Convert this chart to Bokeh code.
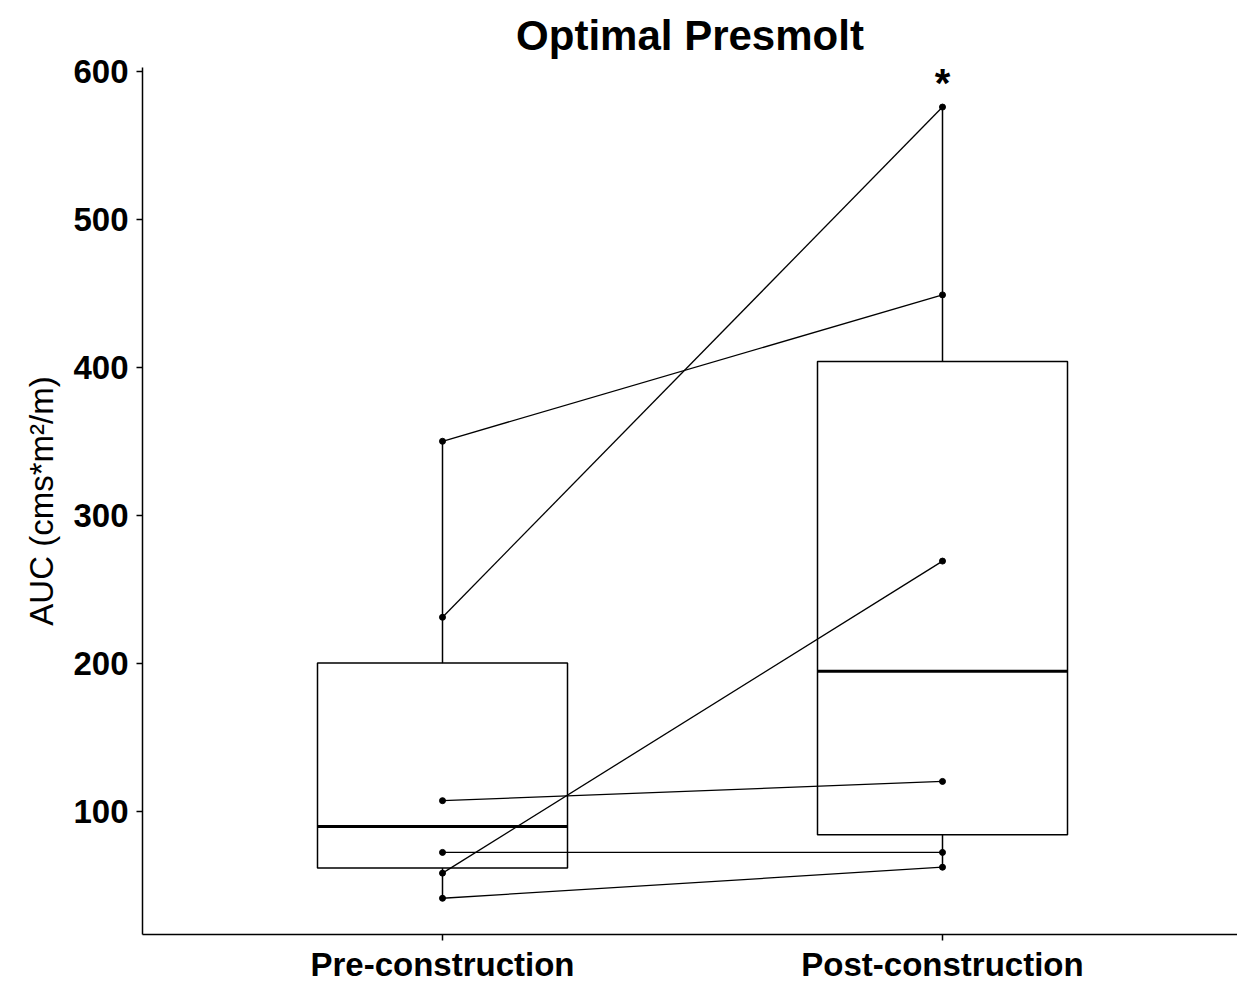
import numpy as np
from bokeh.plotting import figure
from bokeh.models import Range1d, FixedTicker
from bokeh.core.properties import value
from bokeh.embed import file_html
from bokeh.resources import INLINE

groups = ["Pre-construction", "Post-construction"]
pre_auc = [231, 350, 58, 107, 72, 41]
post_auc = [576, 449, 269, 120, 72, 62]
y_ticks = [100, 200, 300, 400, 500, 600]
title = "Optimal Presmolt"
y_label = "AUC (cms*m\u00b2/m)"
signif = "*"

FONT = "Liberation Sans"

p = figure(width=1237, height=985, output_backend="svg", toolbar_location=None,
           x_range=Range1d(0.4, 2.59), y_range=Range1d(16.5, 602.75),
           min_border_left=142, min_border_right=0, min_border_top=67, min_border_bottom=49,
           title=title)

p.title.text_font = FONT
p.title.text_font_size = "42px"
p.title.text_font_style = "bold"
p.title.align = "center"
p.title.text_color = "black"
p.title.standoff = 18

p.xgrid.visible = False
p.ygrid.visible = False
p.outline_line_color = None
p.background_fill_color = "white"
p.border_fill_color = "white"

for ax in (p.xaxis[0], p.yaxis[0]):
    ax.axis_line_color = "black"
    ax.axis_line_width = 1.5
    ax.major_tick_line_color = "black"
    ax.major_tick_line_width = 1.5
    ax.major_tick_in = 0
    ax.major_tick_out = 6
    ax.minor_tick_line_color = None
    ax.major_label_text_font = FONT
    ax.major_label_text_font_size = "33px"
    ax.major_label_text_font_style = "bold"
    ax.major_label_text_color = "black"
    ax.major_label_standoff = 8

p.xaxis.major_label_standoff = 5
p.xaxis.ticker = FixedTicker(ticks=[1, 2])
p.xaxis.major_label_overrides = {1: groups[0], 2: groups[1]}
p.yaxis.ticker = FixedTicker(ticks=y_ticks)
p.yaxis.axis_label = y_label
p.yaxis.axis_label_text_font = FONT
p.yaxis.axis_label_text_font_size = "33px"
p.yaxis.axis_label_text_font_style = "normal"
p.yaxis.axis_label_text_color = "black"
p.yaxis.axis_label_standoff = 10

data = [pre_auc, post_auc]
xs = [1, 2]
bw = 0.25
for x, vals in zip(xs, data):
    v = np.array(vals, dtype=float)
    q1, med, q3 = np.percentile(v, [25, 50, 75])
    iqr = q3 - q1
    lo = v[v >= q1 - 1.5 * iqr].min()
    hi = v[v <= q3 + 1.5 * iqr].max()
    p.segment(x0=[x, x], y0=[q3, q1], x1=[x, x], y1=[hi, lo], line_color="black", line_width=1.5)
    p.quad(left=[x - bw], right=[x + bw], bottom=[q1], top=[q3],
           fill_color="white", fill_alpha=0, line_color="black", line_width=1.5)
    p.segment(x0=[x - bw], y0=[med], x1=[x + bw], y1=[med], line_color="black", line_width=3)

p.segment(x0=[1] * len(pre_auc), y0=pre_auc, x1=[2] * len(post_auc), y1=post_auc,
          line_color="black", line_width=1.3)
p.scatter(x=[1] * len(pre_auc), y=pre_auc, size=6, color="black")
p.scatter(x=[2] * len(post_auc), y=post_auc, size=6, color="black")

p.text(x=[2], y=[max(post_auc)], text=[signif], text_align="center", text_baseline="alphabetic",
       y_offset=-24, text_font=value(FONT), text_font_size="40px", text_font_style="bold",
       text_color="black")

open("out.html", "w").write(file_html(p, INLINE))
